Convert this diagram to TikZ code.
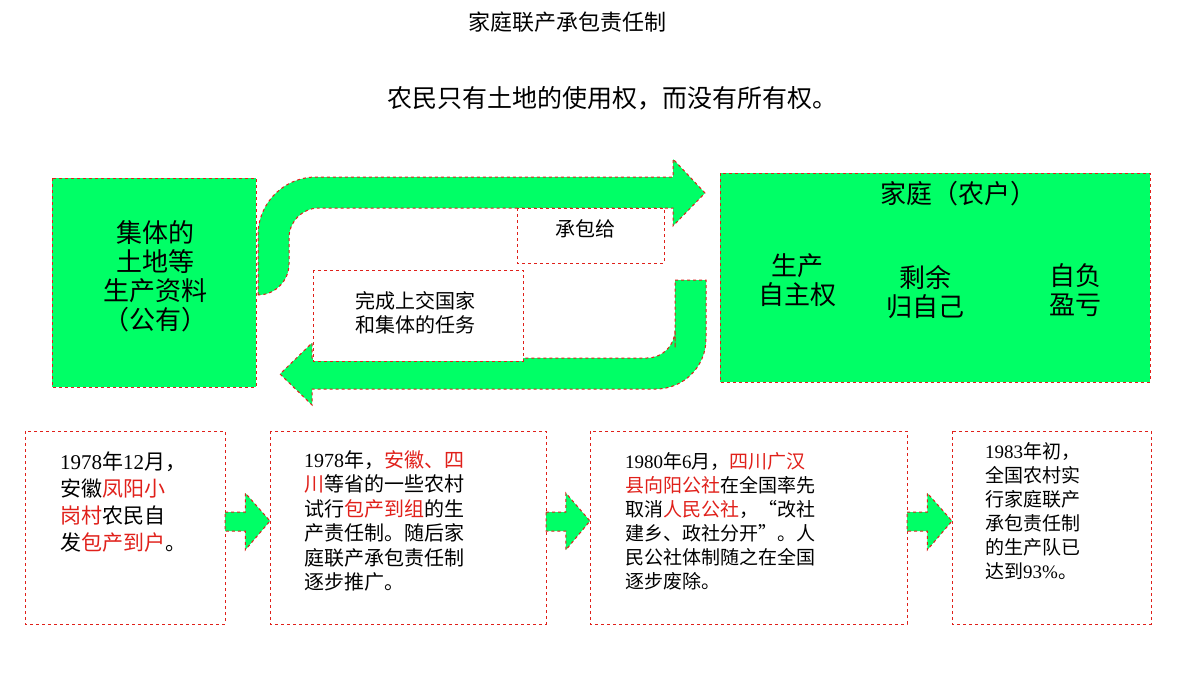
\documentclass[tikz,border=0pt]{standalone}
\usepackage{fontspec}
\setmainfont{Noto Sans CJK SC}
\newfontfamily\ser{Liberation Serif}
\usetikzlibrary{calc}
\definecolor{bgreen}{HTML}{00FF66}
\definecolor{bred}{HTML}{E0201A}
\tikzset{
  greenbox/.style={draw=bred, dashed, fill=bgreen, line width=1pt},
  labelbox/.style={draw=bred, dashed, fill=white, line width=0.8pt},
  stepbox/.style={draw=bred, dashed, line width=1pt},
  steptext/.style={anchor=north west, align=left, font=\fontsize{19}{24}\selectfont, inner sep=0pt},
  bigtext/.style={align=center, font=\fontsize{26}{29}\selectfont}
}
\newcommand{\hl}[1]{\textcolor{bred}{#1}}
\begin{document}
\begin{tikzpicture}[x=1pt,y=-1pt]
    \useasboundingbox (0,0) rectangle (1200,675);

    % titles
    \node (title) at (567,22) {\fontsize{22}{26}\selectfont 家庭联产承包责任制};
    \node (sub) at (612,98) {\fontsize{25}{28}\selectfont 农民只有土地的使用权，而没有所有权。};

    % big boxes
    \draw[greenbox] (52,178) rectangle (256,387);
    \node[bigtext] (left) at (155,276) {集体的\\土地等\\生产资料\\（公有）};
    \draw[greenbox] (720,173) rectangle (1150,382);
    \node[bigtext] (home) at (958,194) {家庭（农户）};
    \node[bigtext] (own) at (797,280) {生产\\自主权};
    \node[bigtext] (rest) at (925,292) {剩余\\归自己};
    \node[bigtext] (gain) at (1075,290) {自负\\盈亏};

    % upper arrow
    \draw[greenbox] (258,295) [rounded corners=58] -- (258,177) -- (400,177)
      [sharp corners] -- (673,177) -- (673,159) -- (705,193) -- (673,226) -- (673,208)
      -- (400,208) [rounded corners=30] -- (289,208) -- (289,294) [sharp corners] -- cycle;
    % lower arrow
    \draw[greenbox] (675,280) -- (706,280) [rounded corners=50] -- (706,389) -- (500,389)
      [sharp corners] -- (312,389) -- (312,405) -- (280,374) -- (312,343) -- (312,358)
      -- (500,358) [rounded corners=28] -- (675,358) -- (675,320) [sharp corners] -- cycle;

    \draw[labelbox] (517,208) rectangle (664,263);
    \node (give) at (585,229) {\fontsize{20}{24}\selectfont 承包给};
    \draw[labelbox] (313,270) rectangle (523,361);
    \node[align=center, font=\fontsize{20}{24}\selectfont] (task) at (415,313) {完成上交国家\\和集体的任务};

    % timeline boxes
    \draw[stepbox] (25,431) rectangle (225,624);
    \draw[stepbox] (270,431) rectangle (546,624);
    \draw[stepbox] (590,431) rectangle (907,624);
    \draw[stepbox] (952,431) rectangle (1151,624);

    % small arrows
    \foreach \a/\b in {225/270,546/590,907/952}
    \draw[greenbox] (\a,512) -- ($(\a,512)!0.45!(\b,512)$) -- ($(\a,493)!0.45!(\b,493)$)
      -- (\b,521) -- ($(\a,550)!0.45!(\b,550)$) -- ($(\a,531)!0.45!(\b,531)$) -- (\a,531) -- cycle;

    \node[steptext, font=\fontsize{21}{27}\selectfont] (s1) at (60,452)
      {{\ser 1978}年{\ser 12}月，\\安徽\hl{凤阳小}\\\hl{岗村}农民自\\发\hl{包产到户}。};
    \node[steptext, font=\fontsize{20}{24.5}\selectfont] (s2) at (304,450)
      {{\ser 1978}年，\hl{安徽、四}\\\hl{川}等省的一些农村\\试行\hl{包产到组}的生\\产责任制。随后家\\庭联产承包责任制\\逐步推广。};
    \node[steptext] (s3) at (625,452)
      {{\ser 1980}年{\ser 6}月，\hl{四川广汉}\\\hl{县向阳公社}在全国率先\\取消\hl{人民公社}，“改社\\建乡、政社分开”。人\\民公社体制随之在全国\\逐步废除。};
    \node[steptext] (s4) at (985,442)
      {{\ser 1983}年初，\\全国农村实\\行家庭联产\\承包责任制\\的生产队已\\达到{\ser 93\%}。};
\end{tikzpicture}
\end{document}
